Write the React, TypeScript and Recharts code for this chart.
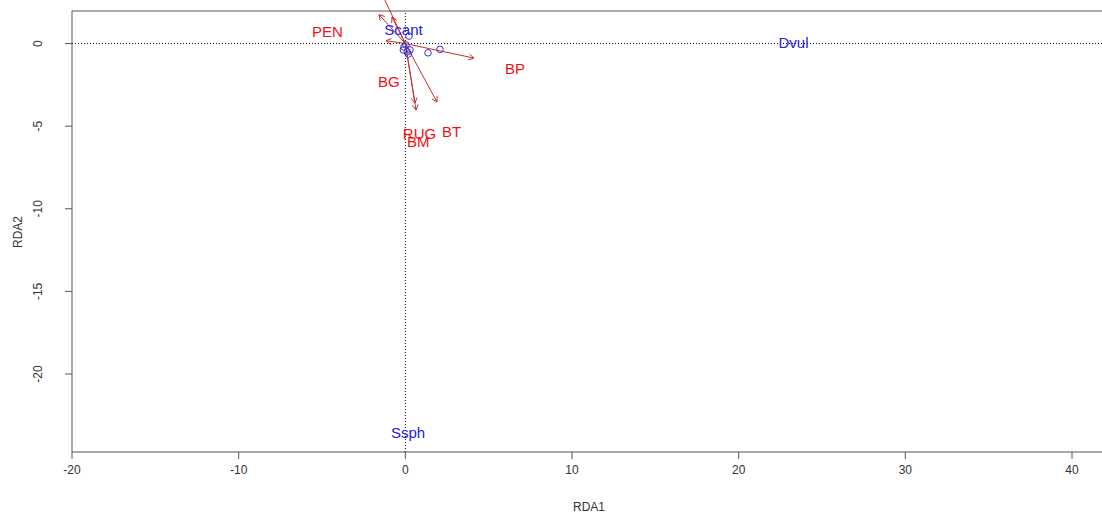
import {
  ReferenceLine,
  Scatter,
  ScatterChart,
  XAxis,
  YAxis,
} from "recharts";

const FONT = "'Liberation Sans', Arial, sans-serif";

const xTicks = [-20, -10, 0, 10, 20, 30, 40];
const yTicks = [-20, -15, -10, -5, 0];

// site scores (open circles)
const sites = [
  { x: 0.22, y: 0.45 },
  { x: 1.36, y: -0.56 },
  { x: 2.08, y: -0.35 },
  { x: -0.12, y: -0.39 },
  { x: 0.12, y: -0.5 },
  { x: 0.28, y: -0.39 },
  { x: 0.18, y: -0.64 },
  { x: 0.04, y: -0.09 },
  { x: -0.08, y: -0.21 },
];

// species labels
const species = [
  { name: "Scant", x: -0.11, y: 0.82 },
  { name: "Dvul", x: 23.29, y: 0.03 },
  { name: "Ssph", x: 0.16, y: -23.57 },
];

// environmental arrow tips
const envArrows = [
  { x: -1.58, y: 1.75 },
  { x: -0.8, y: 1.6 },
  { x: -1.4, y: 3.0 },
  { x: -1.16, y: 0.17 },
  { x: 4.12, y: -0.88 },
  { x: 1.9, y: -3.54 },
  { x: 0.58, y: -3.6 },
  { x: 0.64, y: -4.02 },
];

const envLabels = [
  { name: "PEN", x: -4.67, y: 0.71 },
  { name: "BP", x: 6.58, y: -1.53 },
  { name: "BG", x: -0.99, y: -2.34 },
  { name: "RUG", x: 0.85, y: -5.48 },
  { name: "BT", x: 2.78, y: -5.34 },
  { name: "BM", x: 0.78, y: -5.95 },
];

const ARROW = "#c03030";
const RED = "#f01010";
const BLUE = "#2020e8";

function ArrowShape(props: any) {
  const { x1, y1, x2, y2 } = props;
  const ang = Math.atan2(y2 - y1, x2 - x1);
  const len = 6;
  const s = Math.PI / 6;
  const ax = x2 - len * Math.cos(ang - s);
  const ay = y2 - len * Math.sin(ang - s);
  const bx = x2 - len * Math.cos(ang + s);
  const by = y2 - len * Math.sin(ang + s);
  return (
    <g>
      <line x1={x1} y1={y1} x2={x2} y2={y2} stroke={ARROW} strokeWidth={1} />
      <polyline
        points={`${ax},${ay} ${x2},${y2} ${bx},${by}`}
        fill="none"
        stroke={ARROW}
        strokeWidth={1}
      />
    </g>
  );
}

const labelShape = (color: string) => (p: any) =>
  (
    <text
      x={p.cx}
      y={p.cy + 5}
      textAnchor="middle"
      fontSize={15}
      fontFamily={FONT}
      fill={color}
    >
      {p.payload.name}
    </text>
  );

export default function App() {
  return (
    <div style={{ position: "absolute", left: 0, top: 0 }}>
      <ScatterChart
        width={1102}
        height={516}
        margin={{ top: 11, right: 0, bottom: 0, left: 0 }}
      >
        <XAxis
          type="number"
          dataKey="x"
          domain={[-20, 41.8]}
          allowDataOverflow
          ticks={xTicks}
          height={64}
          tickSize={7}
          tickMargin={4}
          axisLine={{ stroke: "#555" }}
          tickLine={{ stroke: "#555" }}
          tick={({ x, y, payload }: any) => (
            <text
              x={x}
              y={y + 11}
              textAnchor="middle"
              fontSize={12}
              fontFamily={FONT}
              fill="#333"
            >
              {payload.value}
            </text>
          )}
        />
        <YAxis
          type="number"
          dataKey="y"
          domain={[-24.72, 1.97]}
          allowDataOverflow
          ticks={yTicks}
          width={72}
          tickSize={7}
          tickMargin={4}
          axisLine={{ stroke: "#555" }}
          tickLine={{ stroke: "#555" }}
          tick={({ x, y, payload }: any) => (
            <text
              x={x - 18.5}
              y={y}
              transform={`rotate(-90 ${x - 18.5} ${y})`}
              textAnchor="middle"
              fontSize={12}
              fontFamily={FONT}
              fill="#333"
            >
              {payload.value}
            </text>
          )}
        />
        <ReferenceLine y={1.97} stroke="#555" />
        <ReferenceLine y={0} stroke="#000" strokeDasharray="1 2" />
        <ReferenceLine x={0} stroke="#000" strokeDasharray="1 2" />
        <Scatter
          data={sites}
          isAnimationActive={false}
          shape={(p: any) => (
            <circle cx={p.cx} cy={p.cy} r={3.3} fill="none" stroke="#3535c8" />
          )}
        />
        <Scatter
          data={species}
          isAnimationActive={false}
          shape={labelShape(BLUE)}
        />
        {envArrows.map((a, i) => (
          <ReferenceLine
            key={i}
            segment={[
              { x: 0, y: 0 },
              { x: a.x, y: a.y },
            ]}
            ifOverflow="visible"
            shape={ArrowShape}
          />
        ))}
        <Scatter
          data={envLabels}
          isAnimationActive={false}
          shape={labelShape(RED)}
        />
      </ScatterChart>
      <svg
        width={1102}
        height={516}
        style={{ position: "absolute", left: 0, top: 0, pointerEvents: "none" }}
      >
        <text
          x={589}
          y={511}
          textAnchor="middle"
          fontSize={12}
          fontFamily={FONT}
          fill="#333"
        >
          RDA1
        </text>
        <text
          x={21.5}
          y={232}
          transform="rotate(-90 21.5 232)"
          textAnchor="middle"
          fontSize={12}
          fontFamily={FONT}
          fill="#333"
        >
          RDA2
        </text>
      </svg>
    </div>
  );
}
